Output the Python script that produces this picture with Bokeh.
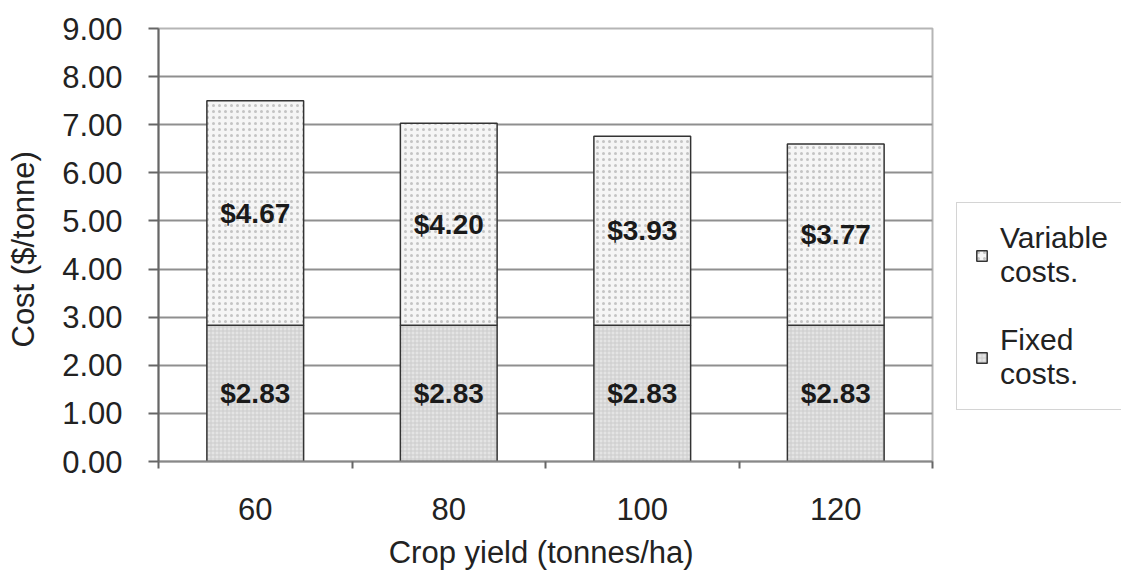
from bokeh.plotting import figure
from bokeh.models import (ColumnDataSource, FixedTicker, NumeralTickFormatter,
                          Legend, LegendItem, Range1d, LabelSet)
from bokeh.core.properties import value
from bokeh.embed import file_html
from bokeh.resources import INLINE

yields = ["60", "80", "100", "120"]
fixed_costs = [2.83, 2.83, 2.83, 2.83]
variable_costs = [4.67, 4.20, 3.93, 3.77]
y_ticks = [0, 1, 2, 3, 4, 5, 6, 7, 8, 9]

FONT = "Liberation Sans"

xpos = [i + 0.5 for i in range(len(yields))]
tops = [f + v for f, v in zip(fixed_costs, variable_costs)]
src = ColumnDataSource(dict(
    x=xpos, fixed=fixed_costs, var=variable_costs, top=tops,
    fixed_mid=[f / 2 for f in fixed_costs],
    var_mid=[f + v / 2 for f, v in zip(fixed_costs, variable_costs)],
    fixed_lbl=["$%.2f" % f for f in fixed_costs],
    var_lbl=["$%.2f" % v for v in variable_costs],
))

p = figure(frame_width=774, frame_height=433, output_backend="svg", toolbar_location=None,
           x_range=Range1d(0, len(yields)), y_range=Range1d(0, 9),
           min_border_left=158, min_border_right=189, min_border_top=28,
           min_border_bottom=118)
p.background_fill_color = "white"
p.border_fill_color = "white"
p.outline_line_color = "#b5b5b5"
p.outline_line_width = 2

fixed_r = p.vbar(x="x", bottom=0, top="fixed", width=0.5, source=src,
                 fill_color="#e4e4e4", line_color="#333333", line_width=1.5,
                 hatch_pattern="+", hatch_color="#cccccc", hatch_scale=4, hatch_weight=1)
var_r = p.vbar(x="x", bottom="fixed", top="top", width=0.5, source=src,
               fill_color="#f5f5f5", line_color="#333333", line_width=1.5,
               hatch_pattern="dot", hatch_color="#c4c4c4", hatch_scale=6, hatch_weight=1)

for ycol, tcol in (("fixed_mid", "fixed_lbl"), ("var_mid", "var_lbl")):
    p.add_layout(LabelSet(x="x", y=ycol, text=tcol, source=src,
                          text_align="center", text_baseline="middle",
                          text_font=value(FONT), text_font_style="bold",
                          text_font_size="28px", text_color="#1a1a1a"))

# y axis
yax = p.yaxis[0]
yax.ticker = FixedTicker(ticks=y_ticks)
yax.formatter = NumeralTickFormatter(format="0.00")
yax.axis_label = "Cost  ($/tonne)"
yax.axis_label_text_font = FONT
yax.axis_label_text_font_style = "normal"
yax.axis_label_text_font_size = "31px"
yax.axis_label_text_color = "#222222"
yax.axis_label_standoff = 18
yax.major_label_text_font = FONT
yax.major_label_text_font_size = "31px"
yax.major_label_text_color = "#222222"
yax.major_label_standoff = 26
yax.major_tick_out = 10
yax.major_tick_in = 0
yax.major_tick_line_color = "#666666"
yax.major_tick_line_width = 2
yax.minor_tick_line_color = None
yax.axis_line_color = "#666666"
yax.axis_line_width = 2

# x axis: labels at centres, ticks at category boundaries
xax = p.xaxis[0]
xax.ticker = FixedTicker(ticks=xpos, minor_ticks=list(range(len(yields) + 1)))
xax.major_label_overrides = {x: y for x, y in zip(xpos, yields)}
xax.axis_label = "Crop yield  (tonnes/ha)"
xax.axis_label_text_font = FONT
xax.axis_label_text_font_style = "normal"
xax.axis_label_text_font_size = "31px"
xax.axis_label_text_color = "#222222"
xax.axis_label_standoff = 12
xax.major_label_text_font = FONT
xax.major_label_text_font_size = "31px"
xax.major_label_text_color = "#222222"
xax.major_label_standoff = 29
xax.major_tick_out = 0
xax.major_tick_in = 0
xax.minor_tick_out = 7
xax.minor_tick_in = 0
xax.minor_tick_line_color = "#666666"
xax.minor_tick_line_width = 2
xax.axis_line_color = "#888888"
xax.axis_line_width = 2

p.xgrid.grid_line_color = None
p.ygrid.ticker = FixedTicker(ticks=y_ticks)
p.ygrid.grid_line_color = "#8f8f8f"
p.ygrid.grid_line_width = 2

legend = Legend(items=[
    LegendItem(label="Variable\ncosts.", renderers=[var_r]),
    LegendItem(label="Fixed\ncosts.", renderers=[fixed_r]),
], location=(24, 51))
legend.label_text_font = FONT
legend.label_text_font_size = "30px"
legend.label_text_color = "#222222"
legend.label_text_line_height = 1.65
legend.glyph_width = 13
legend.glyph_height = 13
legend.padding = 18
legend.spacing = 34
legend.label_standoff = 12
legend.label_width = 150
legend.border_line_color = "#aaaaaa"
legend.border_line_width = 1.5
legend.background_fill_color = "white"
legend.background_fill_alpha = 1
p.add_layout(legend, "right")

open("out.html", "w").write(file_html(p, INLINE))
